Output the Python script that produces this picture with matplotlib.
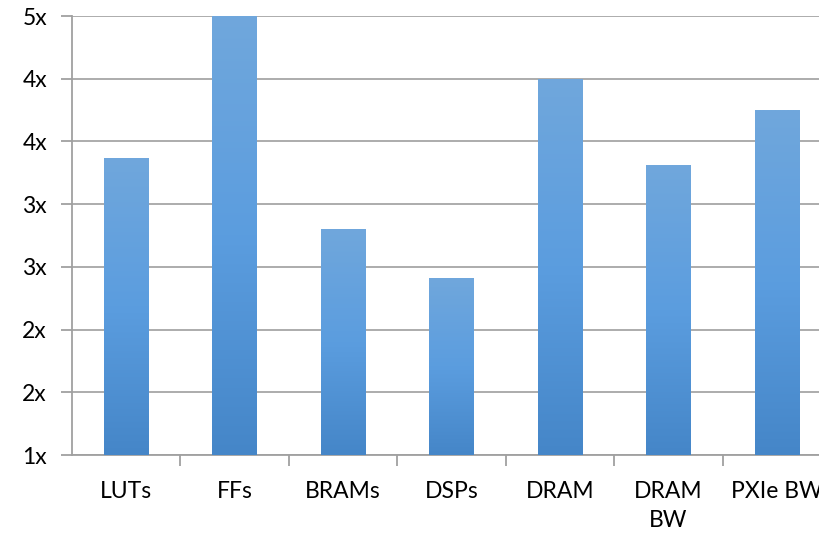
import numpy as np
import matplotlib
matplotlib.use("Agg")
import matplotlib.pyplot as plt
from matplotlib.ticker import FuncFormatter, MultipleLocator
from matplotlib.colors import LinearSegmentedColormap

categories = ["LUTs", "FFs", "BRAMs", "DSPs", "DRAM", "DRAM\nBW", "PXIe BW"]
values = [3.37, 4.5, 2.80, 2.41, 4.0, 3.31, 3.75]

plt.rcParams['font.family'] = ['Lato', 'DejaVu Sans']

fig = plt.figure(figsize=(8.2, 5.33), dpi=100)
ax = fig.add_axes([72/820, 78/533, 759/820, 439/533])

x = np.arange(len(categories))
bars = ax.bar(x, values, width=0.41, bottom=0, color='none', zorder=3)

cmap = LinearSegmentedColormap.from_list(
    "g", [(0.0, "#4586c8"), (0.5, "#5b9ddf"), (1.0, "#70a7dc")])
grad = np.linspace(0, 1, 256).reshape(-1, 1)
ymin = 1.0
for b in bars:
    x0 = b.get_x()
    x1 = x0 + b.get_width()
    y1 = b.get_height()
    im = ax.imshow(grad, extent=[x0, x1, ymin, y1], origin='lower',
                   aspect='auto', cmap=cmap, zorder=3)
    im.set_clip_path(b)

ax.set_xlim(-0.5, len(categories) - 0.5)
ax.set_ylim(1.0, 4.5)
ax.yaxis.set_major_locator(MultipleLocator(0.5))
ax.yaxis.set_major_formatter(FuncFormatter(lambda v, p: f"{int(np.floor(v + 0.5))}x"))

ax.set_xticks(x)
ax.set_xticklabels(categories)
ax.set_xticks(np.arange(len(categories)) + 0.5, minor=True)
ax.tick_params(axis='x', which='major', length=0, pad=19, labelsize=16.5)
ax.tick_params(axis='x', which='minor', length=8, color='#a0a0a0', width=1.3)
ax.tick_params(axis='y', length=8, color='#a0a0a0', width=1.3, labelsize=16.5, pad=10)

ax.grid(axis='y', color='#a6a6a6', linewidth=1.3, zorder=0)
ax.set_axisbelow(True)
for s in ['top', 'right']:
    ax.spines[s].set_visible(False)
for s in ['left', 'bottom']:
    ax.spines[s].set_color('#a0a0a0')
    ax.spines[s].set_linewidth(1.3)

for lab in ax.get_xticklabels():
    lab.set_verticalalignment('top')
    lab.set_linespacing(1.45)

fig.savefig("out.png", dpi=100)
